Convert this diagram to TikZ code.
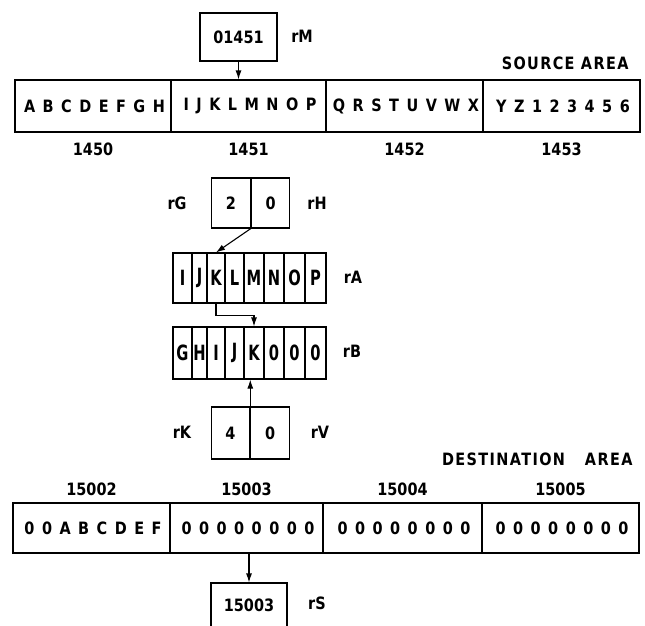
\documentclass[tikz,border=0pt]{standalone}
\usepackage{fontspec}
\setmainfont[FakeStretch=0.85]{DejaVu Sans}
\newfontfamily\wordfont[FakeStretch=0.85, LetterSpace=44]{DejaVu Sans}
\newfontfamily\titlefont[FakeStretch=0.85, LetterSpace=8]{DejaVu Sans}
\newfontfamily\narrowfont[FakeStretch=0.7]{DejaVu Sans}
\usetikzlibrary{positioning, arrows.meta}

\begin{document}
\begin{tikzpicture}[x=1pt, y=-1pt, >={Latex[length=9pt,width=6pt]}, line width=1.1pt,
  font=\fontsize{17}{20}\selectfont\bfseries,
  word/.style={draw, minimum height=52pt, inner sep=0pt, font=\fontsize{17}{20}\selectfont\wordfont\bfseries},
  reg/.style={draw, minimum width=77pt, minimum height=48pt, inner sep=0pt},
  half/.style={draw, minimum width=38.5pt, minimum height=50pt, inner sep=0pt},
  regcell/.style={draw, minimum height=50pt, inner sep=0pt, font=\fontsize{21}{24}\selectfont\narrowfont\bfseries},
  tag/.style={inner sep=0pt},
  area/.style={inner sep=0pt, anchor=east, font=\fontsize{17}{20}\selectfont\titlefont\bfseries}]
  \useasboundingbox (0,0) rectangle (645,625);
  \clip (0,0) rectangle (645,625);

  \node[reg] (m) at (238.5,37) {01451};
  \node[tag] (mlab) at (302,36) {rM};
  \node[area] (src) at (629,63) {SOURCE AREA};
  \foreach \l/\r/\t/\n [count=\i] in {15/171/ABCDEFGH/1450, 171/326/IJKLMNOP/1451,
      326/483/QRSTUVWX/1452, 483/640/YZ123456/1453} {
    \node[word, minimum width={(\r-\l)*1pt}] (s\i) at ({(\l+\r)/2},106) {\hspace{3pt}\t};
    \node[tag, below=10pt of s\i] (sn\i) {\n};
  }
  \draw[->] (m.south) -- (m.south |- s2.north);

  \node[half] (g) at (231,203) {2};
  \node[half, anchor=west] (h) at (g.east) {0};
  \node[tag] (glab) at (177,203) {rG};
  \node[tag] (hlab) at (317,203) {rH};

  \foreach \l/\r/\t [count=\i] in {173/192/I, 192/207/J, 207/225/K, 225/244/L,
      244/264/M, 264/284/N, 284/305/O, 305/326/P}
    \node[regcell, minimum width={(\r-\l)*1pt}] (a\i) at ({(\l+\r)/2},278) {\t};
  \node[tag] (alab) at (353,277) {rA};
  \draw[->] (g.south east) -- (a3.north);

  \foreach \l/\r/\t [count=\i] in {173/192/G, 192/207/H, 207/225/I, 225/244/J,
      244/264/K, 264/284/0, 284/305/0, 305/326/0}
    \node[regcell, minimum width={(\r-\l)*1pt}, minimum height=52pt] (b\i) at ({(\l+\r)/2},353) {\t};
  \node[tag] (blab) at (352,351) {rB};
  \draw[->] (a3.south) -- ++(0,12) -| (b5.north);

  \node[half, minimum height=52pt] (k) at (230.5,433) {4};
  \node[half, minimum height=52pt, anchor=west] (v) at (k.east) {0};
  \node[tag] (klab) at (182,432) {rK};
  \node[tag] (vlab) at (320,432) {rV};
  \draw[->] (k.north east) -- (k.north east |- b5.south);

  \node[area] (dst) at (633,459) {DESTINATION\hspace{20pt}AREA};
  \foreach \l/\r/\t/\n [count=\i] in {13/170/00ABCDEF/15002, 170/323/00000000/15003,
      323/482/00000000/15004, 482/639/00000000/15005} {
    \node[word, minimum width={(\r-\l)*1pt}, minimum height=50pt] (d\i) at ({(\l+\r)/2},528) {\hspace{3pt}\t};
    \node[tag, above=6pt of d\i] (dn\i) {\n};
  }

  \node[reg, minimum width=76pt, minimum height=50pt] (s) at (249,608) {\raisebox{5pt}{15003}};
  \node[tag] (slab) at (317,603) {rS};
  \draw[->] (s.north |- d2.south) -- (s.north);
\end{tikzpicture}
\end{document}
